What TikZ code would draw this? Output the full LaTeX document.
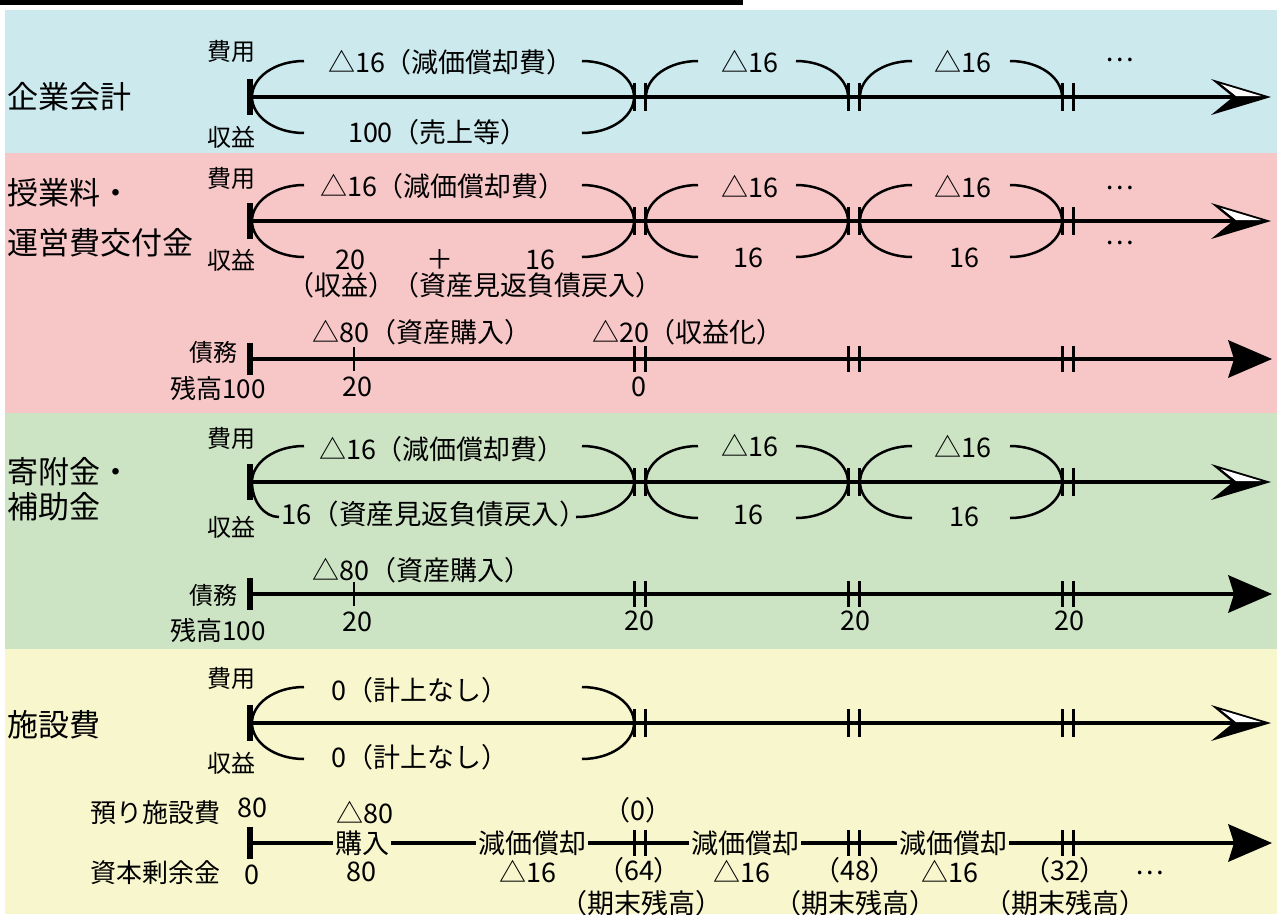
\documentclass[tikz,border=0pt]{standalone}
\usepackage{fontspec}
\setmainfont{Noto Sans CJK JP}
\definecolor{bgb}{RGB}{204,233,238}
\definecolor{bgp}{RGB}{247,198,199}
\definecolor{bgg}{RGB}{204,228,196}
\definecolor{bgy}{RGB}{248,246,204}
\newcommand\upL[2]{\draw[arcst] ({#1+52},{#2-36}) arc[start angle=90,end angle=180,x radius=52pt,y radius=36pt];}
\newcommand\loL[2]{\draw[arcst] (#1,#2) arc[start angle=180,end angle=270,x radius=52pt,y radius=36pt];}
\newcommand\upR[2]{\draw[arcst] ({#1-52},{#2-36}) arc[start angle=90,end angle=0,x radius=52pt,y radius=36pt];}
\newcommand\loR[2]{\draw[arcst] (#1,#2) arc[start angle=0,end angle=-90,x radius=52pt,y radius=36pt];}
\newcommand\dtick[3]{\draw[tickst] ({#1-5.5},{#2-#3}) -- ({#1-5.5},{#2+#3}); \draw[tickst] ({#1+5.5},{#2-#3}) -- ({#1+5.5},{#2+#3});}
\newcommand\openhead[1]{\fill (1271,#1) -- (1211,{#1-18}) -- (1233,#1) -- (1211,{#1+18}) -- cycle;
  \fill[white] (1221,{#1-13}) -- (1261,{#1-1}) -- (1236,{#1-1}) -- cycle;}
\newcommand\solidhead[1]{\fill (1272,#1) -- (1228,{#1-19}) -- (1234,#1) -- (1228,{#1+19}) -- cycle;}
\begin{document}
\begin{tikzpicture}[x=1pt,y=-1pt,
  body/.style={inner sep=0pt,font=\fontsize{27pt}{30pt}\selectfont},
  side/.style={inner sep=0pt,font=\fontsize{24pt}{27pt}\selectfont},
  big/.style={inner sep=0pt,anchor=west,font=\fontsize{31pt}{34pt}\selectfont},
  onl/.style={body,fill=bgy,inner xsep=2pt},
  mainst/.style={line width=4.8pt},
  barst/.style={line width=5.5pt},
  arcst/.style={line width=2.5pt},
  tickst/.style={line width=2.5pt}]
\useasboundingbox (0,0) rectangle (1277,914);
% backgrounds
\fill (0,0) rectangle (743,5);
\fill[bgb] (5,10) rectangle (1277,153);
\fill[bgp] (5,153) rectangle (1277,413);
\fill[bgg] (5,413) rectangle (1277,649);
\fill[bgy] (5,649) rectangle (1277,914);

% ===== 企業会計 =====
\node[big] (L1) at (7,97) {企業会計};
\node[side] (c1) at (231,51) {費用};
\node[side] (r1) at (231,137) {収益};
\coordinate (s1) at (250,97); \coordinate (e1) at (1233,97);
\draw[mainst] (s1) -- (e1);
\draw[barst] (250,79) -- (250,115);
\openhead{97}
\dtick{640}{97}{14}\dtick{854}{97}{14}\dtick{1068}{97}{14}
\upL{252}{97}\loL{252}{97}\upR{634}{97}\loR{634}{97}
\upL{646}{97}\upR{848}{97}\upL{860}{97}\upR{1062}{97}
\node[body] (a1) at (451,62) {△16（減価償却費）};
\node[body] (b1) at (438,132) {100（売上等）};
\node[body] (a2) at (750,62) {△16};
\node[body] (a3) at (963,62) {△16};
\node[body] (d1) at (1120,60) {…};

% ===== 授業料・運営費交付金 =====
\node[big] (L2a) at (7,193) {授業料・};
\node[big] (L2b) at (7,243) {運営費交付金};
\node[side] (c2) at (231,178) {費用};
\node[side] (r2) at (231,260) {収益};
\coordinate (s2) at (250,221); \coordinate (e2) at (1233,221);
\draw[mainst] (s2) -- (e2);
\draw[barst] (250,203) -- (250,239);
\openhead{221}
\dtick{640}{221}{14}\dtick{854}{221}{14}\dtick{1068}{221}{14}
\upL{252}{221}\loL{252}{221}\upR{634}{221}\loR{634}{221}
\upL{646}{221}\loL{646}{221}\upR{848}{221}\loR{848}{221}
\upL{860}{221}\loL{860}{221}\upR{1062}{221}\loR{1062}{221}
\node[body] (p1) at (443,186) {△16（減価償却費）};
\node[body] (p2) at (750,187) {△16};
\node[body] (p3) at (963,187) {△16};
\node[body] (q2) at (748,258) {16};
\node[body] (q3) at (964,258) {16};
\node[body] (pd1) at (1120,188) {…};
\node[body] (pd2) at (1120,243) {…};
\node[body] (q1a) at (350,260) {20};
\node[body] (q1b) at (440,260) {＋};
\node[body] (q1c) at (540,260) {16};
\node[body] (q1d) at (341,285) {（収益）};
\node[body] (q1e) at (527,285) {（資産見返負債戻入）};
% debt line
\coordinate (s2d) at (250,359); \coordinate (e2d) at (1234,359);
\draw[mainst] (s2d) -- (e2d);
\draw[barst] (250,343) -- (250,375);
\solidhead{359}
\draw[tickst] (354,347) -- (354,371);
\dtick{640}{359}{13}\dtick{854}{359}{13}\dtick{1068}{359}{13}
\node[body] (pd3) at (422,332) {△80（資産購入）};
\node[body] (pd4) at (688,332) {△20（収益化）};
\node[side,anchor=east] (dbt2) at (238,352) {債務};
\node[side,anchor=west,font=\fontsize{26pt}{28pt}\selectfont] (bal2) at (170,388) {残高100};
\node[body] (pd5) at (357,387) {20};
\node[body] (pd6) at (639,387) {0};

% ===== 寄附金・補助金 =====
\node[big] (L3a) at (7,472) {寄附金・};
\node[big] (L3b) at (7,507) {補助金};
\node[side] (c3) at (231,438) {費用};
\node[side] (r3) at (231,527) {収益};
\coordinate (s3) at (250,482); \coordinate (e3) at (1233,482);
\draw[mainst] (s3) -- (e3);
\draw[barst] (250,464) -- (250,500);
\openhead{482}
\dtick{640}{482}{14}\dtick{854}{482}{14}\dtick{1068}{482}{14}
\upL{252}{482}\upR{634}{482}
\draw[arcst] (252,482) arc[start angle=180,end angle=270,x radius=27pt,y radius=35pt];
\draw[arcst] (634,482) arc[start angle=0,end angle=-90,x radius=58pt,y radius=35pt];
\upL{646}{482}\loL{646}{482}\upR{848}{482}\loR{848}{482}
\upL{860}{482}\loL{860}{482}\upR{1062}{482}\loR{1062}{482}
\node[body] (g1) at (442,449) {△16（減価償却費）};
\node[body,anchor=west,font=\fontsize{27.5pt}{30pt}\selectfont] (h1) at (281,514) {16（資産見返負債戻入）};
\node[body] (g2) at (750,446) {△16};
\node[body] (g3) at (963,447) {△16};
\node[body] (h2) at (748,515) {16};
\node[body] (h3) at (964,517) {16};
% debt line
\coordinate (s3d) at (250,594); \coordinate (e3d) at (1234,594);
\draw[mainst] (s3d) -- (e3d);
\draw[barst] (250,578) -- (250,610);
\solidhead{594}
\draw[tickst] (354,582) -- (354,606);
\dtick{640}{594}{13}\dtick{854}{594}{13}\dtick{1068}{594}{13}
\node[body] (gd1) at (422,570) {△80（資産購入）};
\node[side,anchor=east] (dbt3) at (238,595) {債務};
\node[side,anchor=west,font=\fontsize{26pt}{28pt}\selectfont] (bal3) at (170,630) {残高100};
\node[body] (gd2) at (357,622) {20};
\node[body] (gd3) at (639,621) {20};
\node[body] (gd4) at (855,621) {20};
\node[body] (gd5) at (1069,621) {20};

% ===== 施設費 =====
\node[big] (L4) at (7,725) {施設費};
\node[side] (c4) at (231,678) {費用};
\node[side] (r4) at (231,763) {収益};
\coordinate (s4) at (250,723); \coordinate (e4) at (1233,723);
\draw[mainst] (s4) -- (e4);
\draw[barst] (250,705) -- (250,741);
\openhead{723}
\dtick{640}{723}{14}\dtick{854}{723}{14}\dtick{1068}{723}{14}
\upL{252}{723}\loL{252}{723}\upR{634}{723}\loR{634}{723}
\node[body] (y1) at (420,690) {0（計上なし）};
\node[body] (y2) at (420,757) {0（計上なし）};
% bottom line
\coordinate (s4d) at (250,843); \coordinate (e4d) at (1234,843);
\draw[line width=4.2pt] (s4d) -- (e4d);
\draw[barst] (250,827) -- (250,859);
\solidhead{843}
\dtick{640}{843}{13}\dtick{854}{843}{13}\dtick{1068}{843}{13}
\node[body,anchor=west,font=\fontsize{26pt}{28pt}\selectfont] (k1) at (90,813) {預り施設費};
\node[body] (k2) at (252,808) {80};
\node[body,anchor=west,font=\fontsize{26pt}{28pt}\selectfont] (k3) at (90,873) {資本剰余金};
\node[body] (k4) at (252,875) {0};
\node[body] (m1) at (365,813) {△80};
\node[onl] (m2) at (362,843) {購入};
\node[body] (m3) at (361,872) {80};
\node[onl] (n1) at (532,843) {減価償却};
\node[body] (n2) at (528,872) {△16};
\node[body] (o1) at (638,810) {（0）};
\node[body] (o2) at (639,870) {（64）};
\node[body] (o3) at (641,903) {（期末残高）};
\node[onl] (n3) at (745,843) {減価償却};
\node[body] (n4) at (742,872) {△16};
\node[body] (o4) at (855,870) {（48）};
\node[body] (o5) at (855,903) {（期末残高）};
\node[onl] (n5) at (953,843) {減価償却};
\node[body] (n6) at (950,872) {△16};
\node[body] (o6) at (1065,870) {（32）};
\node[body] (o7) at (1065,903) {（期末残高）};
\node[body] (d4) at (1150,873) {…};
\end{tikzpicture}
\end{document}
